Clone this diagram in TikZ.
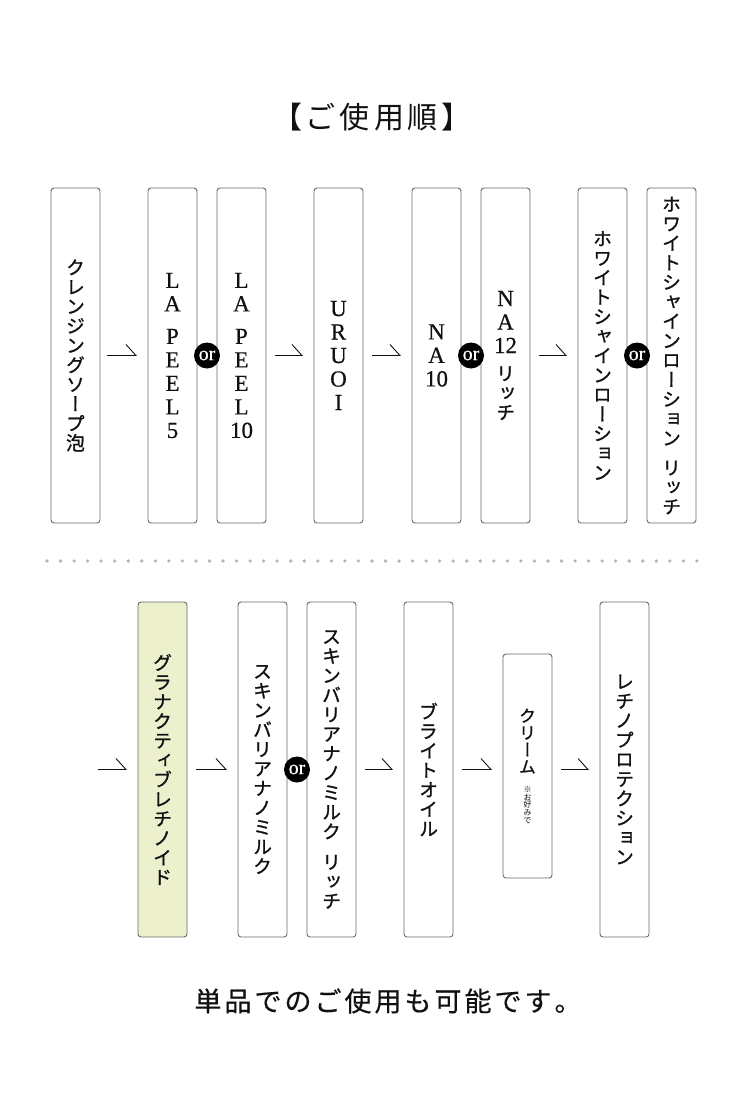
\documentclass[tikz,border=0pt]{standalone}
\usepackage{fontspec}
\setmainfont{Liberation Serif}
\newfontfamily\latfont[FakeBold=0.5]{Liberation Serif}
\newfontfamily\jpplain{Noto Sans CJK JP}
\newfontfamily\jpfont[FakeBold=0.4]{Noto Sans CJK JP}
\newfontfamily\jpvert[RawFeature=+vert, FakeBold=1]{Noto Sans CJK JP}
\newfontfamily\jpvertthin[RawFeature=+vert]{Noto Sans CJK JP}
\usetikzlibrary{arrows.meta}
\usetikzlibrary{calc}
\usetikzlibrary{positioning}

\definecolor{framegray}{HTML}{6A6A6A}
\definecolor{greenfill}{HTML}{ECF0CD}
\definecolor{dotgray}{HTML}{B4B4B4}
\definecolor{inkblack}{HTML}{111111}

% vertical columns, one glyph per line
\newcommand\en{\latfont\fontsize{23pt}{23.5pt}\selectfont}
\newcommand\ja{\jpvert\fontsize{19pt}{19.5pt}\selectfont}
\newcommand\jamid{\jpvert\fontsize{17pt}{17pt}\selectfont}
\newcommand\jatiny{\jpvertthin\fontsize{8pt}{7.6pt}\selectfont}
\newcommand\tatechar[1]{#1\par}
\def\tateloop#1{\ifx\relax#1\else\tatechar{#1}\expandafter\tateloop\fi}
\newcommand\tate[1]{\vbox{\hsize=46pt\parindent=0pt\parskip=0pt
  \lineskiplimit=-\maxdimen\centering\ja\tateloop#1\relax}}
% spaced horizontal text
\newcommand\spaced[2]{\def\spacekern{#1}\spacedloop#2\relax}
\def\spacedloop#1{\ifx\relax#1\else#1\kern\spacekern\relax\expandafter\spacedloop\fi}

\begin{document}
\begin{tikzpicture}[x=1pt, y=-1pt,
    stepbox/.style={draw=framegray, line width=0.9pt, rounded corners=3pt,
      fill=white, minimum width=49pt, minimum height=335pt, inner sep=0pt,
      outer sep=0pt, text=inkblack},
    creambox/.style={stepbox, minimum height=224pt},
    ornode/.style={circle, fill=black, text=white, inner sep=0pt,
      minimum size=26pt, font=\latfont\fontsize{20pt}{20pt}\selectfont},
    flow/.style={line width=0.9pt, draw=inkblack,
      -{Straight Barb[left, length=10pt, width=22pt]},
      shorten <=9pt, shorten >=11pt}]

    \useasboundingbox (0,0) rectangle (750,1119);
    \fill [white] (0,0) rectangle (750,1119);

    % title
    \node [text=inkblack] (title) at (374,117)
      {\jpplain\fontsize{30pt}{30pt}\selectfont\spaced{4pt}{【ご使用順】}};

    % first row
    \node [stepbox] (cleanse) at (75.5,355.5)
      {\tate{ク レ ン ジ ン グ ソ ー プ 泡}};
    \node [stepbox, right=48pt of cleanse] (lapeel5)
      {\tate{\en L A {\vskip 9pt} P E E L 5}};
    \node [stepbox, right=20pt of lapeel5] (lapeel10)
      {\tate{\en L A {\vskip 9pt} P E E L {10}}};
    \node [stepbox, right=48pt of lapeel10] (uruoi)
      {\tate{\en U R U O I}};
    \node [stepbox, right=49pt of uruoi] (naten)
      {\tate{\en N A {10}}};
    \node [stepbox, right=20pt of naten] (natwelve)
      {\tate{\en N A {12} {\vskip 8pt} \ja リ ッ チ}};
    \node [stepbox, right=48pt of natwelve] (white)
      {\tate{ホ ワ イ ト シ ャ イ ン ロ ー シ ョ ン}};
    \node [stepbox, right=20pt of white] (whiterich)
      {\tate{ホ ワ イ ト シ ャ イ ン ロ ー シ ョ ン {\vskip 10pt} リ ッ チ}};

    \node [ornode] (or1) at ($(lapeel5)!0.5!(lapeel10)$) {or};
    \node [ornode] (or2) at ($(naten)!0.5!(natwelve)$) {or};
    \node [ornode] (or3) at ($(white)!0.5!(whiterich)$) {or};

    \draw [flow, shorten <=7pt] (cleanse) -- (lapeel5);
    \draw [flow] (lapeel10) -- (uruoi);
    \draw [flow] (uruoi) -- (naten);
    \draw [flow] (natwelve) -- (white);

    % separator
    \foreach \i in {0, ..., 48} {
      \fill [dotgray] ({47 + \i*13.54}, 561) circle (1.8pt);
    }

    % second row
    \coordinate (start) at (98,769.5);
    \node [stepbox, fill=greenfill] (granactive) at (162.5,769.5)
      {\tate{グ ラ ナ ク テ ィ ブ レ チ ノ イ ド}};
    \node [stepbox, right=51pt of granactive] (skinmilk)
      {\tate{ス キ ン バ リ ア ナ ノ ミ ル ク}};
    \node [stepbox, right=20pt of skinmilk] (skinrich)
      {\tate{ス キ ン バ リ ア ナ ノ ミ ル ク {\vskip 11pt} リ ッ チ}};
    \node [stepbox, right=48pt of skinrich] (oil)
      {\tate{ブ ラ イ ト オ イ ル}};
    \node [creambox, right=50pt of oil, yshift=3.5pt] (cream)
      {\tate{\jamid ク リ ー ム {\vskip 12pt} \jatiny ※ お 好 み で}};
    \node [stepbox, right=48pt of cream.east |- oil.east, anchor=west] (retino)
      {\tate{レ チ ノ プ ロ テ ク シ ョ ン}};

    \node [ornode] (or4) at ($(skinmilk)!0.5!(skinrich)$) {or};

    \draw [flow, shorten <=0pt] (start) -- (granactive);
    \draw [flow] (granactive) -- (skinmilk);
    \draw [flow] (skinrich) -- (oil);
    \draw [flow] (oil) -- (oil -| cream.west);
    \draw [flow] (cream.east |- retino) -- (retino);

    % note
    \node [anchor=west, text=inkblack] (note) at (191,1001)
      {\jpfont\fontsize{27pt}{27pt}\selectfont\spaced{3pt}{単品でのご使用も可能です。}};

  \end{tikzpicture}
\end{document}
